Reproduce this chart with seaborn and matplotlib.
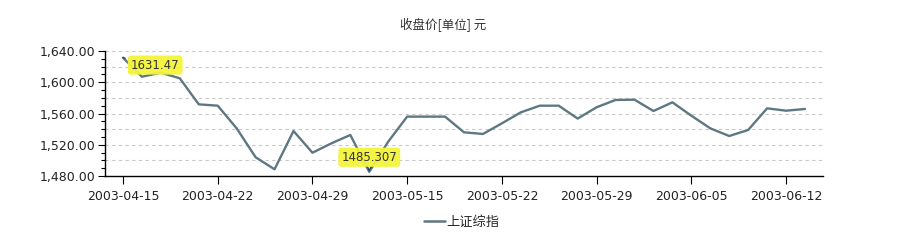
import matplotlib
matplotlib.use("Agg")
import matplotlib.pyplot as plt
import matplotlib.ticker as mticker
from matplotlib.lines import Line2D
import numpy as np
import pandas as pd
import seaborn as sns

dates = ["2003-04-15", "2003-04-16", "2003-04-17", "2003-04-18", "2003-04-21",
         "2003-04-22", "2003-04-23", "2003-04-24", "2003-04-25", "2003-04-28",
         "2003-04-29", "2003-04-30", "2003-05-12", "2003-05-13", "2003-05-14",
         "2003-05-15", "2003-05-16", "2003-05-19", "2003-05-20", "2003-05-21",
         "2003-05-22", "2003-05-23", "2003-05-26", "2003-05-27", "2003-05-28",
         "2003-05-29", "2003-05-30", "2003-06-02", "2003-06-03", "2003-06-04",
         "2003-06-05", "2003-06-06", "2003-06-09", "2003-06-10", "2003-06-11",
         "2003-06-12", "2003-06-13"]
close = [1631.47, 1607.1, 1612.3, 1605.0, 1571.7,
         1570.0, 1541.0, 1504.0, 1488.6, 1537.6,
         1509.8, 1521.8, 1532.5, 1485.307, 1524.0,
         1556.0, 1556.0, 1556.0, 1535.9, 1533.8,
         1547.4, 1561.5, 1570.0, 1570.0, 1553.5,
         1568.0, 1577.3, 1577.7, 1563.2, 1574.3,
         1557.2, 1541.0, 1531.2, 1538.9, 1566.6,
         1563.6, 1565.8]
series_name = "上证综指"
title = "收盘价[单位] 元"
max_label = "1631.47"
min_label = "1485.307"

df = pd.DataFrame({"pos": np.arange(len(dates)), "date": dates, "close": close,
                   "series": series_name})

sns.set_theme(style="white")
plt.rcParams["font.family"] = ["Noto Sans CJK SC", "DejaVu Sans"]

fig = plt.figure(figsize=(9.01, 2.44), dpi=100)
ax = fig.add_axes([105 / 901, 1 - 176 / 244, (823 - 105) / 901, (176 - 51) / 244])

line_color = "#5e7883"
sns.lineplot(data=df, x="pos", y="close", hue="series", palette=[line_color],
             linewidth=1.7, ax=ax, legend=False)

ax.set_xlim(-0.95, len(dates) - 0.05)
ax.set_ylim(1480, 1640)

# grid
for g in np.arange(1500, 1641, 20):
    ax.axhline(g, color="#c8c8c8", linestyle=(0, (3, 3)), linewidth=0.8, zorder=0)

ax.yaxis.set_major_locator(mticker.MultipleLocator(40))
ax.yaxis.set_minor_locator(mticker.MultipleLocator(10))
ax.yaxis.set_major_formatter(mticker.FuncFormatter(lambda v, p: f"{v:,.2f}"))
ticks = list(range(0, len(dates), 5))
ax.set_xticks(ticks)
ax.set_xticklabels([dates[i] for i in ticks])

ax.tick_params(axis="y", which="major", left=True, length=5, width=0.8,
               color="black", labelsize=9, pad=2, labelcolor="#222222")
ax.tick_params(axis="y", which="minor", left=True, length=3, width=0.8, color="black")
ax.tick_params(axis="x", which="major", bottom=True, length=6, width=0.8,
               color="black", labelsize=9, pad=4, labelcolor="#222222")
for lab in ax.get_xticklabels() + ax.get_yticklabels():
    lab.set_family("DejaVu Sans")

for s in ["top", "right"]:
    ax.spines[s].set_visible(False)
for s in ["left", "bottom"]:
    ax.spines[s].set_color("black")
    ax.spines[s].set_linewidth(1.0)
ax.set_xlabel("")
ax.set_ylabel("")

# annotations
imax = int(np.argmax(close))
imin = int(np.argmin(close))
box = dict(boxstyle="round,pad=0.2", fc="#f4f43a", ec="#f4f43a", alpha=0.95)
ax.annotate(max_label, xy=(imax, close[imax]), xytext=(imax + 1.7, 1622),
            fontsize=8.5, ha="center", va="center", bbox=box, color="#333333",
            family="DejaVu Sans",
            arrowprops=dict(arrowstyle="-", color="#333333", lw=0.8))
ax.annotate(min_label, xy=(imin, close[imin]), xytext=(imin, 1504),
            fontsize=8.5, ha="center", va="center", bbox=box, color="#333333",
            family="DejaVu Sans",
            arrowprops=dict(arrowstyle="->", color="#2b4a6a", lw=0.9))

fig.text(443 / 901, 1 - 25 / 244, title, ha="center", va="center", fontsize=9,
         color="#333333")

# legend
handle = Line2D([], [], color=line_color, linewidth=1.8)
fig.legend([handle], [series_name], loc="center", bbox_to_anchor=(462 / 901, 1 - 222 / 244),
           frameon=False, fontsize=9.5, handlelength=1.6, handletextpad=0.1)

fig.savefig("out.png", dpi=100)
